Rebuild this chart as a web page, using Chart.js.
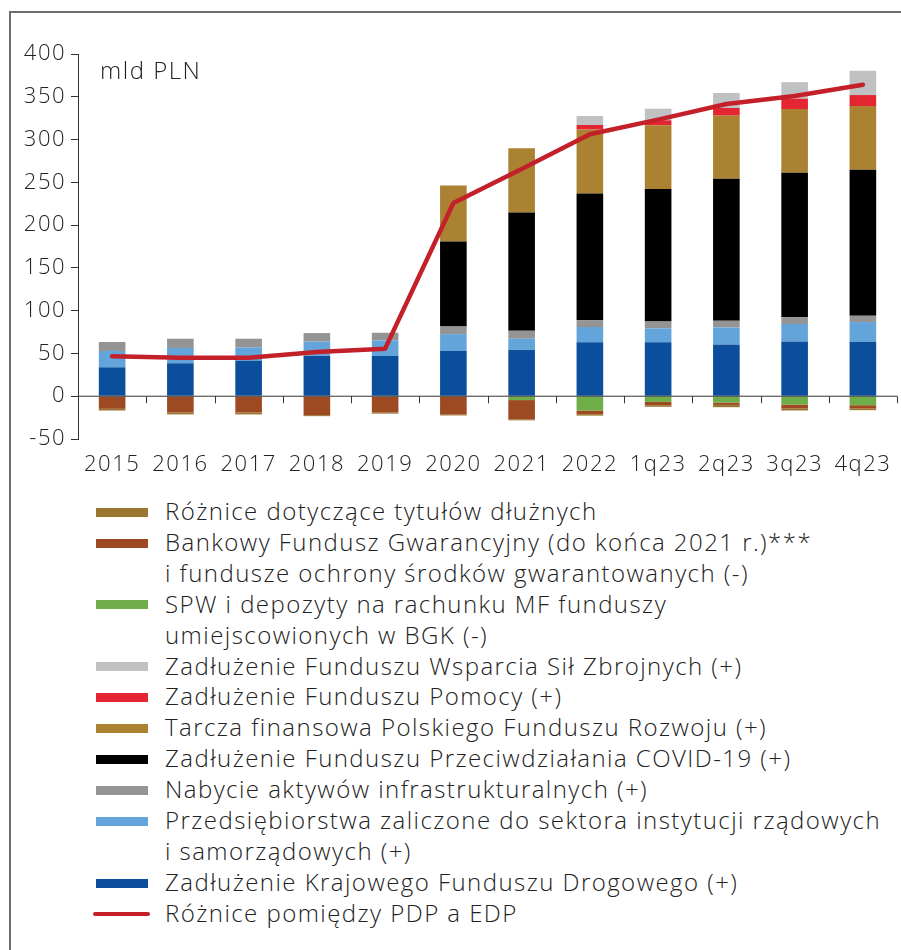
<!DOCTYPE html>
<html><head><meta charset="utf-8">
<script src="https://cdn.jsdelivr.net/npm/chart.js@4/dist/chart.umd.min.js"></script>
<style>
html,body{margin:0;padding:0;background:#fff;}
body{width:901px;height:950px;position:relative;overflow:hidden;font-family:"Open Sans",sans-serif;}
#frame{position:absolute;left:9px;top:11px;right:-5px;bottom:-5px;border-left:2px solid #6e6e6e;border-top:2px solid #6e6e6e;}
#wrap{position:absolute;left:0;top:0;width:901px;height:480px;}
#legend{position:absolute;left:0;top:496px;width:901px;}
.item{position:relative;padding-left:165px;font-size:24px;line-height:30.9px;color:#222;font-weight:300;white-space:nowrap;letter-spacing:1.45px;}
.sw{position:absolute;left:96px;top:11.7px;width:52px;height:9px;}
.ln{position:absolute;left:93px;top:14.2px;width:57px;height:4px;border-radius:2px;}
</style></head>
<body>
<div id="frame"></div>
<div id="wrap"><canvas id="c" width="901" height="480"></canvas></div>
<div id="legend"></div>
<script>
const categories = ['2015','2016','2017','2018','2019','2020','2021','2022','1q23','2q23','3q23','4q23'];
const yTicks = [-50,0,50,100,150,200,250,300,350,400];

const kfd       = [33.8, 38.5, 41.6, 47.4, 47.0, 52.8, 54.4, 63.0, 63.0, 60.6, 64.1, 63.7];
const przeds    = [19.1, 17.9, 15.5, 16.4, 18.3, 19.8, 12.8, 17.9, 16.3, 19.8, 20.3, 23.0];
const nabycie   = [10.5, 10.8, 10.1, 10.0,  8.9,  9.0,  9.3,  8.1,  8.1,  7.8,  8.1,  7.3];
const covid     = [0, 0, 0, 0, 0, 99.1, 138.3, 148.0, 154.7, 165.9, 168.6, 170.6];
const tarcza    = [0, 0, 0, 0, 0, 65.6, 74.9, 74.6, 74.6, 73.9, 74.6, 74.6];
const pomocy    = [0, 0, 0, 0, 0, 0, 0, 5.4, 5.8, 8.9, 12.1, 12.8];
const fwsz      = [0, 0, 0, 0, 0, 0, 0, 10.5, 13.6, 17.5, 19.3, 28.4];
const spw       = [0, 0, 0, 0, -0.8, -0.5, -4.5, -16.7, -6.6, -7.4, -9.7, -10.5];
const bfg       = [-14.7, -19.0, -19.0, -22.1, -18.2, -21.0, -22.5, -4.3, -3.9, -2.7, -4.3, -3.9];
const tytuly    = [-2.0, -2.3, -2.3, -1.2, -1.4, -1.0, -1.2, -1.7, -1.9, -2.7, -2.7, -1.9];
const pdpEdp    = [46.6, 45.1, 45.1, 51.6, 55.6, 225.8, 265.5, 306.2, 323.3, 341.6, 350.8, 364.1];

const FONT = '"Open Sans", sans-serif';

const barSeries = [
  {lines:['Zadłużenie Krajowego Funduszu Drogowego (+)'], data:kfd, color:'#0B4F9C'},
  {lines:['Przedsiębiorstwa zaliczone do sektora instytucji rządowych','i samorządowych (+)'], data:przeds, color:'#63A5DB'},
  {lines:['Nabycie aktywów infrastrukturalnych (+)'], data:nabycie, color:'#949494'},
  {lines:['Zadłużenie Funduszu Przeciwdziałania COVID-19 (+)'], data:covid, color:'#000000'},
  {lines:['Tarcza finansowa Polskiego Funduszu Rozwoju (+)'], data:tarcza, color:'#AB8231'},
  {lines:['Zadłużenie Funduszu Pomocy (+)'], data:pomocy, color:'#E32631'},
  {lines:['Zadłużenie Funduszu Wsparcia Sił Zbrojnych (+)'], data:fwsz, color:'#C0C1C3'},
  {lines:['SPW i depozyty na rachunku MF funduszy','umiejscowionych w BGK (-)'], data:spw, color:'#6EAD47'},
  {lines:['Bankowy Fundusz Gwarancyjny (do końca 2021 r.)***','i fundusze ochrony środków gwarantowanych (-)'], data:bfg, color:'#9D4A22'},
  {lines:['Różnice dotyczące tytułów dłużnych'], data:tytuly, color:'#9B7630'}
];
const lineSeries = {lines:['Różnice pomiędzy PDP a EDP'], data:pdpEdp, color:'#C4202A'};

const datasets = barSeries.map(s => ({
  type:'bar', label:s.lines.join(' '), data:s.data, backgroundColor:s.color,
  borderWidth:0, stack:'s', order:1, categoryPercentage:1.0, barPercentage:0.39
}));
datasets.push({
  type:'line', label:lineSeries.lines.join(' '), data:lineSeries.data,
  borderColor:lineSeries.color, backgroundColor:lineSeries.color, borderWidth:4.5,
  pointRadius:0, tension:0, order:0, borderCapStyle:'round', borderJoinStyle:'round'
});

const spacing = {
  id:'spacing',
  beforeInit(chart){ chart.ctx.letterSpacing = '1.5px'; },
  beforeUpdate(chart){ chart.ctx.letterSpacing = '1.5px'; },
  beforeDraw(chart){ chart.ctx.letterSpacing = '1.5px'; }
};

const extras = {
  id:'extras',
  afterDatasetsDraw(chart){
    const ctx = chart.ctx, xs = chart.scales.x, ys = chart.scales.y;
    const y0 = ys.getPixelForValue(0);
    ctx.save();
    ctx.strokeStyle = '#333'; ctx.lineWidth = 1;
    ctx.beginPath();
    ctx.moveTo(chart.chartArea.left, y0); ctx.lineTo(chart.chartArea.right, y0);
    const step = xs.getPixelForValue(1) - xs.getPixelForValue(0);
    for (let i = 0; i <= categories.length; i++) {
      const x = Math.round(xs.getPixelForValue(0) - step/2 + i*step) + 0.5;
      ctx.moveTo(x, y0); ctx.lineTo(x, y0 + 7);
    }
    ctx.stroke();
    ctx.fillStyle = '#222';
    ctx.font = '300 24px ' + FONT;
    ctx.letterSpacing = '1.5px';
    ctx.textBaseline = 'alphabetic';
    ctx.fillText('mld PLN', 100, 79);
    ctx.restore();
  }
};

new Chart(document.getElementById('c'), {
  data:{labels:categories, datasets},
  options:{
    responsive:false, animation:false,
    layout:{padding:{top:54, right:4, left:0, bottom:0}},
    plugins:{legend:{display:false}, tooltip:{enabled:false}},
    scales:{
      x:{stacked:true, offset:true,
         grid:{display:false}, border:{display:false},
         ticks:{color:'#222', font:{family:FONT, size:22, weight:'300'}, padding:5, maxRotation:0, autoSkip:false},
         afterFit(s){ s.height = 41; }},
      y:{stacked:true, min:-50, max:400,
         afterBuildTicks(s){ s.ticks = yTicks.map(v => ({value:v})); },
         grid:{color:'transparent', tickColor:'#333', tickLength:7, drawOnChartArea:false},
         border:{display:true, color:'#333', width:1},
         ticks:{color:'#222', font:{family:FONT, size:22, weight:'300'}, padding:5},
         afterFit(s){ s.width = 78; }}
    }
  },
  plugins:[spacing, extras]
});

const leg = document.getElementById('legend');
const legendItems = barSeries.slice().reverse().map(s => ({lines:s.lines, color:s.color, kind:'bar'}));
legendItems.push({lines:lineSeries.lines, color:lineSeries.color, kind:'line'});
legendItems.forEach(it => {
  const d = document.createElement('div'); d.className = 'item';
  const sw = document.createElement('span'); sw.className = it.kind === 'bar' ? 'sw' : 'ln';
  sw.style.background = it.color; d.appendChild(sw);
  it.lines.forEach((t, i) => { if (i) d.appendChild(document.createElement('br')); d.appendChild(document.createTextNode(t)); });
  leg.appendChild(d);
});
</script>
</body></html>
